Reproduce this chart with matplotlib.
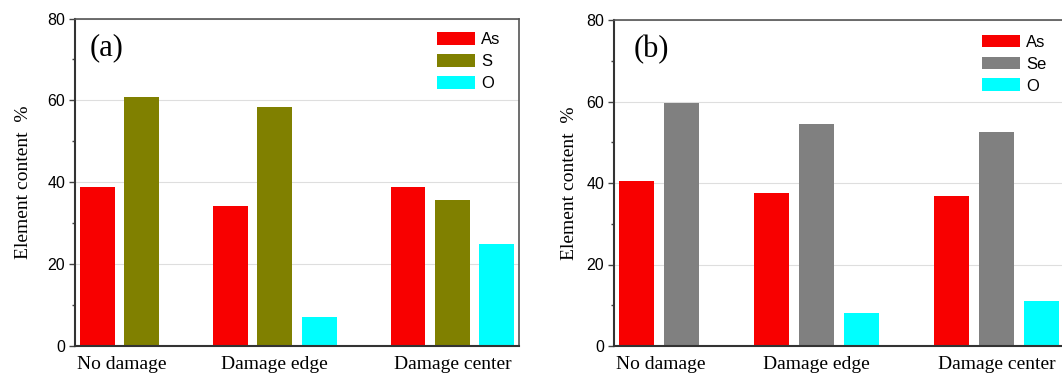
import numpy as np
import matplotlib
matplotlib.use("Agg")
import matplotlib.pyplot as plt
from matplotlib.ticker import MultipleLocator

# data
sites = ["No damage", "Damage edge", "Damage center"]
as_a = [38.9, 34.2, 38.9]
s_a = [60.9, 58.5, 35.7]
o_a = [0.0, 7.0, 25.0]

as_b = [40.5, 37.6, 36.7]
se_b = [59.7, 54.5, 52.4]
o_b = [0.0, 8.2, 11.1]

# bar slots (Origin-style layout, one empty slot before last group)
group_start = np.array([0, 3, 7])
label_pos = [0.55, 4.0, 8.0]

red = "#f80000"
olive = "#808000"
cyan = "#00ffff"
grey = "#808080"

serif = ["Liberation Serif", "DejaVu Serif"]
sans = ["Liberation Sans", "DejaVu Sans"]

fig = plt.figure(figsize=(10.62, 3.76), dpi=100)
ax1 = fig.add_axes([75 / 1062, 30 / 376, 444 / 1062, 327.5 / 376])
ax2 = fig.add_axes([614 / 1062, 30 / 376, 450 / 1062, 326 / 376])


def draw(ax, series, names, colors, tag, tag_x, leg_x, leg_y, ylpad):
    w = 0.78
    for k, (vals, name, col) in enumerate(zip(series, names, colors)):
        ax.bar(group_start + k, vals, width=w, color=col, label=name, zorder=2)
    ax.set_xlim(-0.5, 9.5)
    ax.set_ylim(0, 80)
    ax.yaxis.set_major_locator(MultipleLocator(20))
    ax.yaxis.set_minor_locator(MultipleLocator(10))
    ax.grid(axis="y", which="major", color="#dedede", lw=0.8, zorder=0)
    ax.set_xticks(label_pos)
    ax.set_xticklabels(sites, family=serif, fontsize=14)
    ax.tick_params(axis="x", length=0, pad=7.5)
    ax.tick_params(axis="y", which="major", length=4, width=1, pad=3,
                   labelsize=11.5, color="#444444")
    ax.tick_params(axis="y", which="minor", length=2.5, width=1, color="#444444")
    for lab in ax.get_yticklabels():
        lab.set_family(sans)
    for sp in ax.spines.values():
        sp.set_color("#555555")
        sp.set_linewidth(1.2)
    ax.spines["left"].set_color("#333333")
    ax.spines["bottom"].set_color("#333333")
    ax.spines["left"].set_linewidth(1.5)
    ax.spines["bottom"].set_linewidth(1.5)
    ax.set_ylabel("Element content  %", family=serif, fontsize=14, labelpad=ylpad)
    ax.text(tag_x, 0.91, tag, transform=ax.transAxes, family=serif,
            fontsize=22, ha="left", va="center")
    ax.legend(loc="upper left", bbox_to_anchor=(leg_x, leg_y), frameon=False,
              prop={"family": sans, "size": 12}, handlelength=2.28,
              handleheight=0.8, handletextpad=0.35, labelspacing=0.4,
              borderpad=0, borderaxespad=0)


draw(ax1, [as_a, s_a, o_a], ["As", "S", "O"], [red, olive, cyan], "(a)",
     0.032, 0.816, 0.958, 11)
draw(ax2, [as_b, se_b, o_b], ["As", "Se", "O"], [red, grey, cyan], "(b)",
     0.043, 0.818, 0.955, 6)

fig.savefig("out.png", dpi=100)
